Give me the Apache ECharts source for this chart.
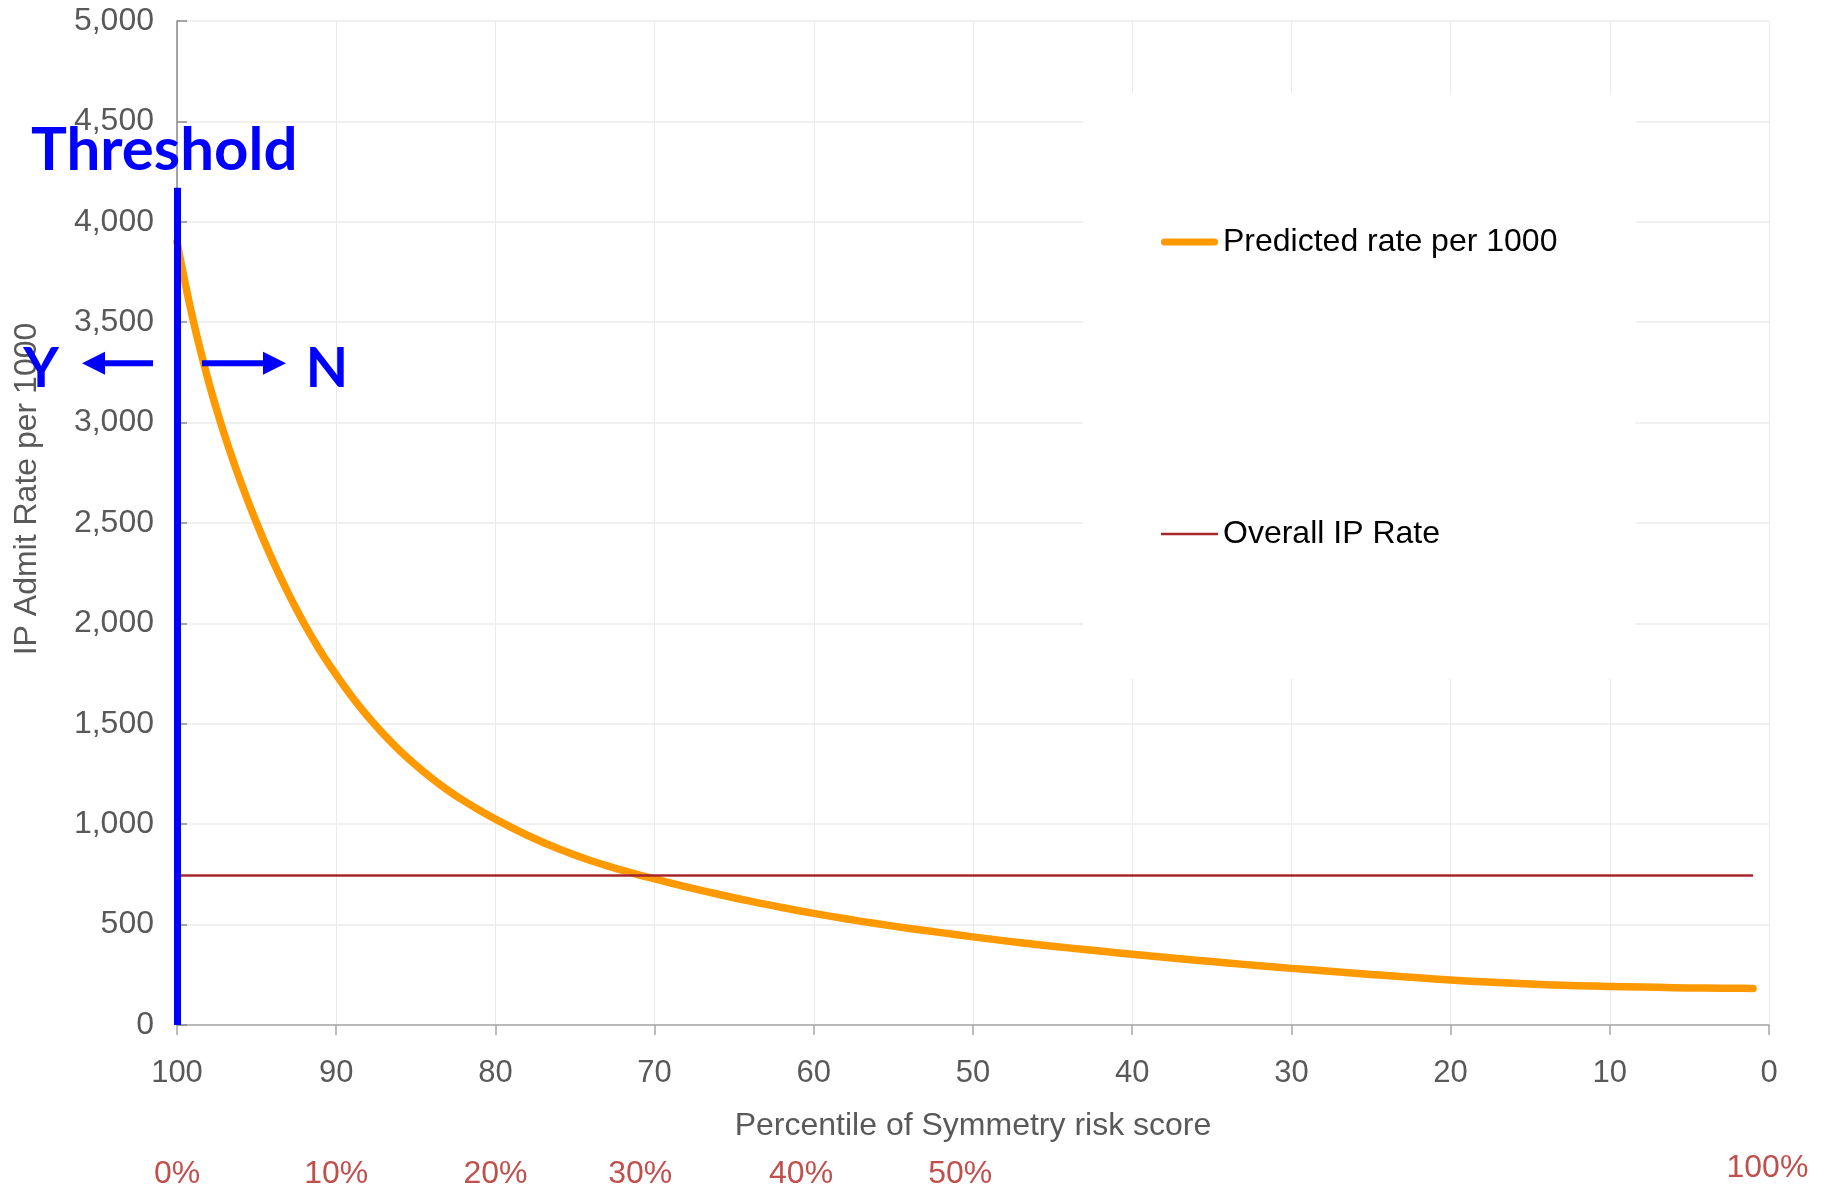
<!DOCTYPE html>
<html>
<head>
<meta charset="utf-8">
<title>IP Admit Rate by Symmetry risk percentile</title>
<script src="https://cdn.jsdelivr.net/npm/echarts@6/dist/echarts.min.js"></script>
<style>
  html, body { margin: 0; padding: 0; background: #ffffff; }
  #chart { width: 1826px; height: 1196px; }
</style>
</head>
<body>
<div id="chart"></div>
<script>
// Percentile of Symmetry risk score (x) and predicted IP admits per 1000 (y)
const percentile = [100, 99, 98, 97, 96, 95, 94, 93, 92, 91, 90, 89, 88, 87, 86, 85, 84, 83, 82, 81, 80,
  78, 76, 74, 72, 71, 70, 68, 66, 64, 62, 60, 58, 56, 54, 52, 50, 48, 46, 44, 42, 40,
  38, 36, 34, 32, 30, 28, 26, 24, 22, 20, 18, 16, 14, 12, 10, 8, 6, 4, 2, 1];
const predictedRate = [3900, 3515, 3200, 2935, 2705, 2500, 2315, 2148, 1997, 1863, 1744, 1634, 1535, 1446, 1366, 1294, 1229, 1170, 1117, 1069, 1025,
  945, 876, 818, 770, 748, 728, 688, 651, 617, 585, 556, 529, 504, 481, 460, 439, 419, 401, 384, 368, 352,
  337, 323, 309, 295, 282, 270, 258, 246, 235, 224, 215, 208, 201, 196, 192, 189, 186, 184, 183, 182];

// Overall IP admit rate, drawn across the same percentile span
const overallRate = 745;
const overallSpan = [100, 1];

// Threshold marker (percentile and how high the bar reaches)
const thresholdPct = 100;
const thresholdTop = 4170;

// Share-of-population labels under the percentile axis
const shareLabels = ['0%', '10%', '20%', '30%', '40%', '50%', '100%'];
const sharePct = [100, 90, 80, 70.9, 60.8, 50.8, 0.1];

// Level of the Y / N arrows
const arrowLevel = 3300;

const FONT = '"Liberation Sans", Arial, sans-serif';
const GREY = '#595959';
const ORANGE = '#ff9900';
const DARK_RED = '#a6262b';

const chart = echarts.init(document.getElementById('chart'), null, { renderer: 'canvas' });

const option = {
  animation: false,
  backgroundColor: '#ffffff',
  textStyle: { fontFamily: FONT },
  grid: { left: 177, right: 57, top: 21, bottom: 171, containLabel: false },
  legend: {
    orient: 'vertical',
    left: 1083,
    top: 93,
    padding: [133, 78, 129, 78],
    backgroundColor: '#ffffff',
    itemWidth: 57,
    itemHeight: 14,
    itemGap: 260,
    selectedMode: false,
    itemStyle: { borderWidth: 0 },
    textStyle: { fontFamily: FONT, fontSize: 32, color: '#000000', lineHeight: 31 },
    data: [
      { name: 'Predicted rate per 1000', icon: 'path://M3.5 0H53.5A3.5 3.5 0 0 1 53.5 7H3.5A3.5 3.5 0 0 1 3.5 0Z', itemStyle: { color: ORANGE, borderWidth: 0 } },
      { name: 'Overall IP Rate', icon: 'path://M0 0H57V2.5H0Z', itemStyle: { color: DARK_RED, borderWidth: 0 } }
    ]
  },
  xAxis: {
    type: 'value',
    min: 0,
    max: 100,
    interval: 10,
    inverse: true,
    name: 'Percentile of Symmetry risk score',
    nameLocation: 'middle',
    nameGap: 85,
    nameTextStyle: { fontFamily: FONT, fontSize: 32, color: GREY },
    axisLine: { show: true, lineStyle: { color: '#a6a6a6', width: 1.5 } },
    axisTick: { show: true, length: 10, lineStyle: { color: '#a6a6a6', width: 1.5 } },
    axisLabel: { fontFamily: FONT, fontSize: 31, color: GREY, margin: 33 },
    splitLine: { show: true, lineStyle: { color: '#ebebeb', width: 1 } }
  },
  yAxis: {
    type: 'value',
    min: 0,
    max: 5000,
    interval: 500,
    axisLine: { show: true, onZero: false, lineStyle: { color: '#8a8a8a', width: 1.5 } },
    axisTick: { show: true, inside: true, length: 10, lineStyle: { color: '#8a8a8a', width: 1.5 } },
    axisLabel: {
      fontFamily: FONT, fontSize: 32, color: GREY, margin: 23,
      formatter: v => v.toLocaleString('en-US')
    },
    splitLine: { show: true, lineStyle: { color: '#ebebeb', width: 1.5 } }
  },
  series: [
    {
      name: 'Predicted rate per 1000',
      type: 'line',
      data: percentile.map((p, i) => [p, predictedRate[i]]),
      smooth: 0.4,
      symbol: 'none',
      z: 3,
      lineStyle: { color: ORANGE, width: 7.5, cap: 'round', join: 'round' },
      itemStyle: { color: ORANGE }
    },
    {
      name: 'Overall IP Rate',
      type: 'line',
      data: overallSpan.map(p => [p, overallRate]),
      symbol: 'none',
      clip: false,
      z: 4,
      lineStyle: { color: DARK_RED, width: 2.5 },
      itemStyle: { color: DARK_RED },
      markLine: {
        silent: true,
        symbol: 'none',
        label: { show: false },
        lineStyle: { color: '#0000ff', width: 7, type: 'solid' },
        data: [[{ coord: [thresholdPct, 0] }, { coord: [thresholdPct, thresholdTop] }]]
      }
    }
  ]
};

chart.setOption(option);

// Annotations placed from the chart's own coordinate system
const toPx = (p, v) => chart.convertToPixel({ gridIndex: 0 }, [p, v]);
const thr = toPx(thresholdPct, arrowLevel);
const thrX = thr[0];
const arrowY = thr[1] + 1;
const BLUE = '#0000ff';

function arrow(tailX, tipX, y) {
  const dir = tipX > tailX ? 1 : -1;
  const headLen = 23;
  const halfHead = 11.5;
  const baseX = tipX - dir * headLen;
  return [
    {
      type: 'line', silent: true, z: 10,
      shape: { x1: tailX, y1: y, x2: baseX + dir * 1, y2: y },
      style: { stroke: BLUE, lineWidth: 6 }
    },
    {
      type: 'polygon', silent: true, z: 10,
      shape: { points: [[tipX, y], [baseX, y - halfHead], [baseX, y + halfHead]] },
      style: { fill: BLUE }
    }
  ];
}

function label(text, x, y, font, fill, align) {
  return {
    type: 'text', silent: true, z: 10,
    style: {
      text: text, x: x, y: y, font: font, fill: fill,
      textAlign: align, textVerticalAlign: 'middle', align: align, verticalAlign: 'middle'
    }
  };
}

const axisBottom = toPx(0, 0)[1];
const BOLD = '"Lato", "Open Sans", sans-serif';
const graphics = [
  // y-axis title
  {
    type: 'text', silent: true, x: 27, y: 489, rotation: Math.PI / 2,
    style: {
      text: 'IP Admit Rate per 1000', x: 0, y: 0,
      font: '32px ' + FONT, fill: GREY,
      textAlign: 'center', textVerticalAlign: 'middle', align: 'center', verticalAlign: 'middle'
    }
  },
  label('Threshold', 31, 151, 'bold 60px ' + BOLD, BLUE, 'left'),
  label('Y', thrX - 136, arrowY + 6, 'bold 55px ' + BOLD, BLUE, 'center'),
  label('N', thrX + 150, arrowY + 6, 'bold 55px ' + BOLD, BLUE, 'center'),
  ...arrow(thrX - 24, thrX - 95, arrowY),
  ...arrow(thrX + 25, thrX + 109, arrowY)
];

shareLabels.forEach((txt, i) => {
  const x = toPx(sharePct[i], 0)[0];
  const isLast = i === shareLabels.length - 1;
  graphics.push(label(txt, x, axisBottom + (isLast ? 143 : 149), '32px ' + FONT, '#c0504d', 'center'));
});

chart.setOption({ graphic: graphics });
</script>
</body>
</html>
